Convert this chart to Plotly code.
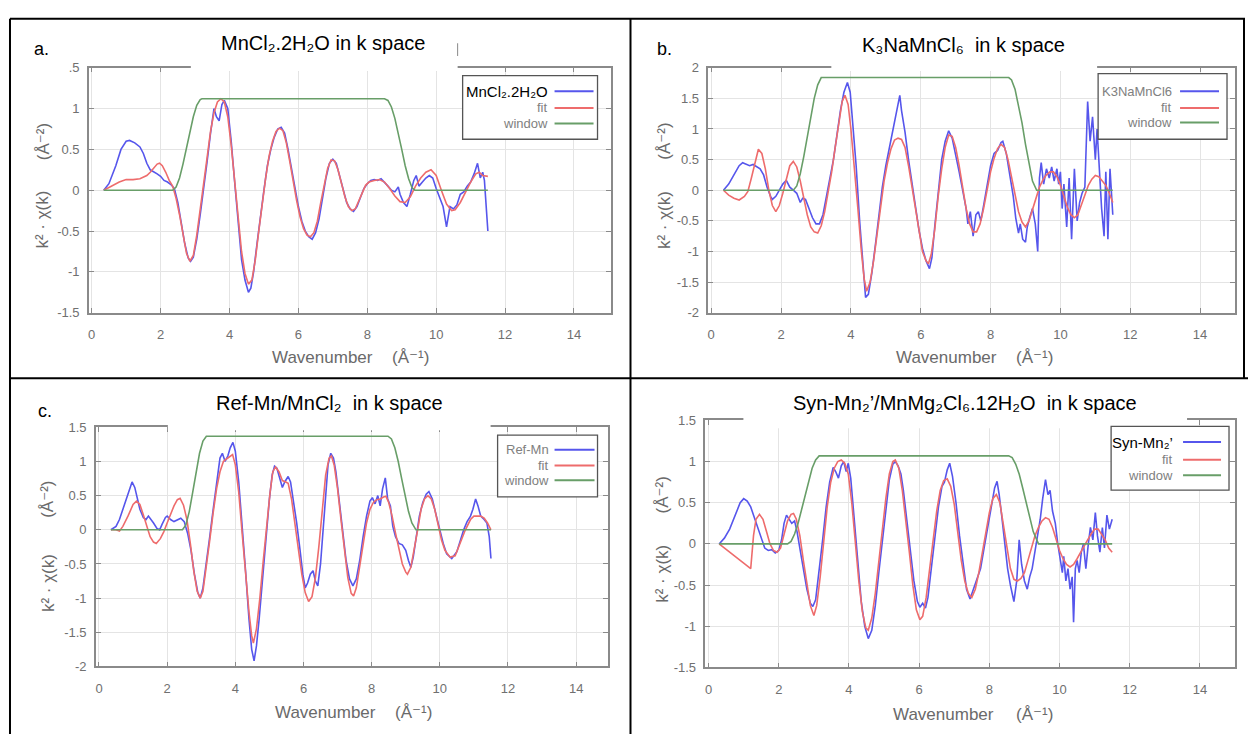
import plotly.graph_objects as go

W, H = 1248, 742

# ---------------- data ----------------
X_TICKS = [0, 2, 4, 6, 8, 10, 12, 14]

# panel a : MnCl2.2H2O
a_k = [0.35,0.5,0.7,0.85,1.0,1.1,1.25,1.4,1.5,1.6,1.7,1.8,1.9,2.0,2.1,2.2,2.3,2.4,2.5,2.6,2.7,2.8,2.87,2.95,3.05,3.15,3.25,3.35,3.45,3.55,3.62,3.7,3.78,3.85,3.95,4.05,4.15,4.25,4.35,4.45,4.55,4.62,4.7,4.8,4.9,5.0,5.1,5.2,5.3,5.4,5.5,5.6,5.7,5.8,5.9,6.0,6.1,6.2,6.3,6.4,6.5,6.6,6.7,6.8,6.9,7.0,7.1,7.2,7.3,7.4,7.5,7.6,7.7,7.8,7.9,8.0,8.1,8.2,8.3,8.4,8.5,8.6,8.7,8.8,8.9,8.95,9.05,9.15,9.25,9.35,9.42,9.5,9.6,9.7,9.8,9.9,10.0,10.1,10.2,10.3,10.35,10.4,10.5,10.6,10.7,10.8,10.9,11.0,11.1,11.2,11.28,11.35,11.4,11.45,11.5]
a_chi = [0,0.08,0.3,0.5,0.6,0.61,0.58,0.53,0.45,0.33,0.25,0.23,0.2,0.17,0.12,0.1,0.07,0.02,-0.15,-0.4,-0.65,-0.83,-0.87,-0.82,-0.6,-0.3,0.0,0.35,0.7,1.0,0.9,0.85,1.05,1.1,1.0,0.6,0.1,-0.4,-0.85,-1.1,-1.25,-1.2,-1.0,-0.65,-0.3,0.0,0.3,0.5,0.65,0.75,0.77,0.7,0.5,0.25,0.0,-0.2,-0.38,-0.5,-0.57,-0.6,-0.52,-0.35,-0.1,0.15,0.33,0.38,0.33,0.18,0.0,-0.15,-0.23,-0.26,-0.2,-0.08,0.02,0.08,0.12,0.13,0.12,0.14,0.1,0.05,0.0,-0.02,0.04,-0.05,-0.15,-0.2,-0.05,0.12,0.18,0.05,0.1,0.15,0.18,0.15,0.02,-0.08,-0.2,-0.45,-0.3,-0.2,-0.23,-0.18,-0.05,-0.02,0.05,0.1,0.2,0.33,0.15,0.22,0.12,-0.2,-0.5]
af_k = [0.35,0.6,0.8,1.0,1.2,1.4,1.6,1.7,1.8,1.9,1.97,2.05,2.15,2.25,2.35,2.45,2.55,2.65,2.75,2.85,2.95,3.05,3.15,3.25,3.35,3.45,3.55,3.65,3.75,3.85,3.95,4.05,4.15,4.25,4.35,4.45,4.55,4.65,4.75,4.85,4.95,5.05,5.15,5.25,5.35,5.45,5.55,5.65,5.75,5.85,5.95,6.05,6.15,6.25,6.35,6.45,6.55,6.65,6.75,6.85,6.95,7.05,7.15,7.25,7.35,7.45,7.55,7.65,7.75,7.85,7.95,8.05,8.2,8.35,8.5,8.65,8.8,8.95,9.1,9.25,9.4,9.55,9.7,9.85,10.0,10.15,10.3,10.45,10.55,10.7,10.85,11.0,11.15,11.25,11.35,11.5]
af_fit = [0,0.06,0.1,0.13,0.13,0.14,0.18,0.22,0.27,0.32,0.33,0.3,0.22,0.12,0.05,-0.1,-0.3,-0.55,-0.77,-0.87,-0.8,-0.55,-0.25,0.05,0.4,0.72,0.95,1.08,1.12,1.08,0.9,0.55,0.1,-0.35,-0.75,-1.02,-1.15,-1.1,-0.85,-0.5,-0.15,0.15,0.42,0.6,0.72,0.76,0.73,0.58,0.35,0.1,-0.13,-0.33,-0.47,-0.55,-0.57,-0.52,-0.38,-0.15,0.08,0.27,0.37,0.36,0.25,0.08,-0.08,-0.2,-0.25,-0.23,-0.13,-0.02,0.06,0.1,0.12,0.13,0.1,0.02,-0.07,-0.14,-0.15,-0.08,0.05,0.15,0.22,0.25,0.18,0.0,-0.17,-0.25,-0.24,-0.15,-0.02,0.1,0.2,0.22,0.18,0.17]
aw_k = [0.35,2.35,2.45,2.55,2.65,2.75,2.85,2.95,3.05,3.15,3.2,8.5,8.6,8.7,8.8,8.9,9.0,9.1,9.2,9.3,9.38,11.5]
aw_win = [0,0,0.04,0.15,0.32,0.52,0.72,0.9,1.04,1.11,1.12,1.12,1.1,1.02,0.88,0.7,0.5,0.3,0.14,0.03,0,0]

# panel b : K3NaMnCl6
b_k = [0.35,0.5,0.65,0.8,0.9,1.0,1.1,1.2,1.3,1.4,1.5,1.6,1.7,1.75,1.85,1.95,2.05,2.15,2.25,2.35,2.45,2.55,2.62,2.7,2.8,2.9,3.0,3.1,3.2,3.3,3.4,3.5,3.6,3.7,3.8,3.9,3.98,4.05,4.15,4.25,4.35,4.42,4.5,4.6,4.7,4.8,4.9,5.0,5.1,5.2,5.3,5.4,5.45,5.55,5.65,5.75,5.85,5.95,6.05,6.15,6.25,6.32,6.4,6.5,6.6,6.7,6.8,6.9,7.0,7.1,7.2,7.3,7.35,7.42,7.5,7.58,7.65,7.72,7.8,7.9,8.0,8.1,8.2,8.3,8.35,8.45,8.55,8.65,8.72,8.8,8.85,8.92,9.0,9.05,9.12,9.2,9.28,9.35,9.4,9.45,9.52,9.6,9.68,9.75,9.82,9.9,9.95,10.0,10.05,10.1,10.18,10.25,10.32,10.4,10.48,10.55,10.62,10.7,10.78,10.85,10.92,11.0,11.05,11.12,11.18,11.25,11.3,11.36,11.42,11.5]
b_chi = [0,0.1,0.25,0.4,0.45,0.43,0.4,0.42,0.38,0.35,0.25,0.05,-0.1,-0.15,-0.1,0.0,0.1,0.16,0.05,0.0,-0.05,-0.2,-0.13,-0.15,-0.3,-0.45,-0.55,-0.55,-0.4,-0.1,0.2,0.5,0.9,1.3,1.6,1.76,1.6,1.15,0.4,-0.5,-1.3,-1.75,-1.7,-1.35,-0.9,-0.4,0.05,0.4,0.7,0.95,1.25,1.55,1.3,0.95,0.5,0.1,-0.3,-0.65,-0.95,-1.15,-1.28,-1.1,-0.6,0.0,0.5,0.8,0.97,0.85,0.6,0.3,0.0,-0.3,-0.55,-0.35,-0.75,-0.4,-0.35,-0.5,-0.25,0.05,0.4,0.6,0.65,0.78,0.8,0.6,0.25,-0.1,-0.45,-0.7,-0.55,-0.8,-0.85,-0.6,-0.45,-0.3,-0.55,-1.0,0.2,0.45,0.1,0.35,0.2,0.38,0.15,0.35,0.1,0.3,-0.3,0.1,-0.6,0.2,-0.8,0.35,-0.5,-0.2,-0.05,0.05,1.45,0.8,1.2,0.5,1.0,0.2,-0.3,-0.75,0.3,-0.8,0.35,-0.4]
bf_k = [0.35,0.5,0.65,0.8,0.95,1.05,1.15,1.25,1.35,1.45,1.55,1.65,1.75,1.85,1.95,2.05,2.15,2.25,2.35,2.45,2.55,2.65,2.75,2.85,2.95,3.05,3.15,3.25,3.35,3.45,3.55,3.65,3.75,3.83,3.92,4.0,4.1,4.2,4.3,4.38,4.45,4.55,4.65,4.75,4.85,4.95,5.05,5.15,5.25,5.35,5.45,5.55,5.65,5.75,5.85,5.95,6.05,6.15,6.22,6.3,6.4,6.5,6.6,6.7,6.8,6.9,7.0,7.1,7.2,7.3,7.4,7.5,7.6,7.7,7.8,7.9,8.0,8.1,8.2,8.3,8.4,8.5,8.6,8.7,8.8,8.9,9.0,9.1,9.2,9.3,9.4,9.5,9.6,9.7,9.8,9.9,10.0,10.1,10.2,10.3,10.4,10.5,10.6,10.7,10.8,10.9,11.0,11.1,11.2,11.3,11.4,11.5]
bf_fit = [0,-0.08,-0.13,-0.16,-0.1,-0.02,0.2,0.45,0.67,0.6,0.35,0.0,-0.25,-0.35,-0.25,-0.05,0.2,0.4,0.47,0.38,0.15,-0.15,-0.4,-0.6,-0.68,-0.7,-0.58,-0.35,-0.05,0.3,0.7,1.1,1.45,1.55,1.4,1.0,0.4,-0.3,-1.0,-1.45,-1.65,-1.5,-1.15,-0.7,-0.25,0.15,0.45,0.68,0.82,0.85,0.83,0.7,0.4,0.05,-0.35,-0.7,-1.0,-1.15,-1.2,-1.05,-0.65,-0.1,0.35,0.7,0.9,0.88,0.7,0.4,0.05,-0.3,-0.55,-0.68,-0.68,-0.55,-0.3,0.0,0.3,0.52,0.68,0.75,0.7,0.5,0.2,-0.1,-0.35,-0.52,-0.6,-0.5,-0.32,-0.12,0.05,0.17,0.25,0.3,0.3,0.22,0.08,-0.1,-0.28,-0.4,-0.45,-0.4,-0.25,-0.08,0.08,0.18,0.24,0.22,0.15,0.08,-0.05,-0.2]
bw_k = [0.35,2.35,2.45,2.55,2.65,2.75,2.85,2.95,3.05,3.15,8.52,8.6,8.7,8.8,8.9,9.0,9.1,9.2,9.32,11.5]
bw_win = [0,0,0.07,0.27,0.55,0.88,1.2,1.5,1.72,1.84,1.84,1.8,1.65,1.4,1.1,0.75,0.42,0.15,0,0]

# panel c : Ref-Mn / MnCl2
c_k = [0.35,0.5,0.6,0.7,0.8,0.9,0.97,1.05,1.12,1.2,1.3,1.38,1.45,1.5,1.6,1.7,1.78,1.85,1.95,2.0,2.1,2.2,2.3,2.4,2.5,2.6,2.7,2.8,2.9,2.97,3.05,3.15,3.25,3.35,3.45,3.55,3.62,3.7,3.78,3.85,3.93,4.0,4.1,4.2,4.3,4.4,4.48,4.55,4.62,4.7,4.8,4.9,5.0,5.08,5.15,5.22,5.3,5.38,5.45,5.55,5.62,5.7,5.8,5.9,5.98,6.05,6.12,6.2,6.28,6.35,6.42,6.5,6.58,6.65,6.72,6.8,6.88,6.95,7.05,7.15,7.25,7.35,7.45,7.55,7.65,7.75,7.85,7.95,8.02,8.1,8.18,8.25,8.32,8.4,8.47,8.55,8.62,8.7,8.8,8.9,9.0,9.08,9.15,9.22,9.3,9.4,9.5,9.6,9.68,9.78,9.9,10.0,10.1,10.2,10.35,10.5,10.6,10.7,10.8,10.9,10.97,11.05,11.12,11.2,11.3,11.38,11.45,11.5]
c_chi = [0,0.05,0.15,0.3,0.45,0.6,0.7,0.62,0.45,0.3,0.18,0.15,0.2,0.17,0.1,0.02,0.0,0.08,0.18,0.2,0.15,0.12,0.15,0.17,0.12,-0.05,-0.3,-0.65,-0.92,-1.0,-0.85,-0.5,-0.1,0.3,0.7,1.05,1.12,1.0,1.08,1.2,1.28,1.15,0.7,0.1,-0.6,-1.3,-1.75,-1.92,-1.7,-1.3,-0.7,-0.1,0.45,0.8,0.93,0.9,0.75,0.62,0.7,0.78,0.7,0.45,0.1,-0.3,-0.65,-0.85,-0.78,-0.65,-0.6,-0.75,-0.82,-0.5,0.0,0.55,0.95,1.12,1.05,0.85,0.4,-0.05,-0.45,-0.72,-0.82,-0.72,-0.45,-0.1,0.2,0.42,0.47,0.38,0.5,0.35,0.6,0.76,0.45,0.35,0.05,-0.1,-0.2,-0.22,-0.3,-0.45,-0.55,-0.4,-0.1,0.2,0.4,0.52,0.56,0.45,0.2,0.0,-0.2,-0.35,-0.42,-0.32,-0.15,0.0,0.12,0.2,0.3,0.45,0.35,0.2,0.15,0.1,-0.1,-0.42]
cf_k = [0.35,0.5,0.6,0.7,0.85,1.0,1.1,1.2,1.3,1.4,1.5,1.6,1.68,1.8,1.9,2.0,2.1,2.2,2.3,2.38,2.48,2.58,2.68,2.78,2.88,2.97,3.05,3.15,3.25,3.35,3.45,3.55,3.65,3.75,3.85,3.92,4.0,4.1,4.2,4.3,4.4,4.48,4.53,4.62,4.72,4.82,4.92,5.02,5.1,5.18,5.28,5.38,5.48,5.55,5.65,5.75,5.85,5.95,6.05,6.15,6.25,6.35,6.45,6.55,6.65,6.75,6.82,6.9,7.0,7.1,7.2,7.3,7.4,7.47,7.55,7.65,7.75,7.85,7.95,8.05,8.15,8.25,8.35,8.42,8.5,8.6,8.7,8.8,8.9,9.0,9.05,9.15,9.25,9.35,9.45,9.55,9.65,9.75,9.85,9.95,10.05,10.15,10.3,10.45,10.6,10.75,10.9,11.0,11.1,11.2,11.3,11.4,11.5]
cf_fit = [0,0.0,-0.02,0.05,0.2,0.37,0.42,0.37,0.22,0.05,-0.1,-0.18,-0.2,-0.13,-0.03,0.1,0.22,0.35,0.44,0.46,0.36,0.15,-0.2,-0.6,-0.9,-1.0,-0.9,-0.55,-0.15,0.25,0.6,0.85,1.0,1.04,1.08,1.1,0.95,0.55,-0.05,-0.65,-1.2,-1.55,-1.66,-1.45,-1.0,-0.45,0.1,0.55,0.85,0.92,0.85,0.72,0.7,0.68,0.45,0.1,-0.3,-0.65,-0.92,-1.05,-0.98,-0.7,-0.25,0.3,0.8,1.05,1.08,0.95,0.6,0.15,-0.3,-0.7,-0.93,-0.97,-0.85,-0.55,-0.2,0.1,0.3,0.4,0.44,0.45,0.48,0.49,0.4,0.2,-0.05,-0.3,-0.5,-0.62,-0.65,-0.55,-0.3,0.0,0.3,0.45,0.5,0.45,0.3,0.05,-0.15,-0.3,-0.4,-0.38,-0.2,0.0,0.15,0.2,0.2,0.2,0.17,0.1,0.0]
cw_k = [0.35,2.45,2.55,2.65,2.75,2.85,2.95,3.05,3.15,8.48,8.58,8.68,8.78,8.88,8.98,9.08,9.18,9.3,11.5]
cw_win = [0,0,0.07,0.27,0.55,0.85,1.12,1.3,1.37,1.37,1.33,1.2,1.0,0.75,0.5,0.27,0.1,0,0]

# panel d : Syn-Mn2' / MnMg2Cl6.12H2O
d_k = [0.3,0.45,0.6,0.75,0.9,1.0,1.1,1.2,1.3,1.4,1.5,1.6,1.7,1.8,1.9,2.0,2.08,2.15,2.22,2.3,2.37,2.45,2.52,2.6,2.7,2.8,2.9,2.97,3.05,3.15,3.25,3.35,3.45,3.55,3.62,3.7,3.78,3.85,3.92,3.98,4.05,4.15,4.25,4.35,4.45,4.55,4.65,4.75,4.85,4.95,5.05,5.15,5.25,5.32,5.4,5.48,5.55,5.65,5.75,5.85,5.95,6.02,6.1,6.18,6.25,6.35,6.45,6.55,6.65,6.72,6.8,6.87,6.95,7.05,7.15,7.25,7.35,7.45,7.52,7.6,7.68,7.75,7.85,7.95,8.05,8.15,8.22,8.28,8.35,8.45,8.52,8.6,8.7,8.78,8.85,8.92,9.0,9.08,9.15,9.22,9.3,9.38,9.45,9.52,9.6,9.67,9.73,9.8,9.88,9.95,10.02,10.08,10.12,10.18,10.24,10.3,10.36,10.4,10.45,10.5,10.56,10.62,10.68,10.75,10.82,10.88,10.95,11.02,11.08,11.15,11.22,11.28,11.35,11.42,11.5]
d_chi = [0,0.07,0.18,0.35,0.5,0.55,0.52,0.45,0.33,0.2,0.07,-0.05,-0.08,-0.07,-0.11,-0.08,0.05,0.25,0.35,0.3,0.25,0.28,0.15,-0.05,-0.3,-0.55,-0.72,-0.76,-0.68,-0.35,0.05,0.45,0.75,0.93,0.88,0.8,0.95,1.0,0.88,0.98,0.8,0.3,-0.25,-0.7,-1.0,-1.15,-1.05,-0.75,-0.35,0.05,0.45,0.78,0.97,1.0,0.95,0.85,0.65,0.3,-0.1,-0.45,-0.7,-0.77,-0.72,-0.78,-0.65,-0.3,0.1,0.45,0.7,0.75,0.9,0.98,0.82,0.5,0.1,-0.25,-0.55,-0.67,-0.58,-0.5,-0.38,-0.3,-0.05,0.2,0.45,0.68,0.76,0.6,0.35,0.0,-0.3,-0.5,-0.7,-0.45,0.05,-0.25,-0.45,-0.55,-0.4,-0.3,-0.1,0.15,0.3,0.55,0.78,0.6,0.65,0.4,0.25,0.0,-0.2,-0.35,-0.15,-0.45,-0.3,-0.55,-0.4,-0.95,-0.3,-0.2,-0.35,-0.1,0.0,-0.3,0.0,0.2,0.05,0.38,0.1,-0.1,0.2,-0.05,0.35,0.18,0.3]
df_k = [0.3,0.45,0.6,0.75,0.9,1.05,1.2,1.28,1.35,1.45,1.55,1.65,1.75,1.85,1.95,2.05,2.15,2.25,2.35,2.42,2.5,2.6,2.7,2.8,2.9,3.0,3.08,3.18,3.28,3.38,3.48,3.58,3.68,3.78,3.88,3.98,4.08,4.18,4.28,4.38,4.48,4.55,4.65,4.75,4.85,4.95,5.05,5.15,5.25,5.32,5.42,5.52,5.62,5.72,5.82,5.92,6.02,6.1,6.2,6.3,6.4,6.5,6.6,6.7,6.8,6.9,7.0,7.1,7.2,7.3,7.4,7.5,7.6,7.7,7.8,7.9,8.0,8.1,8.2,8.3,8.4,8.5,8.6,8.7,8.8,8.9,9.0,9.1,9.2,9.3,9.4,9.5,9.6,9.7,9.8,9.9,10.0,10.1,10.2,10.3,10.4,10.5,10.6,10.7,10.8,10.9,11.0,11.1,11.2,11.3,11.4,11.5]
df_fit = [0,-0.05,-0.1,-0.15,-0.2,-0.25,-0.3,0.1,0.3,0.36,0.3,0.15,0.0,-0.08,-0.1,-0.05,0.1,0.28,0.36,0.37,0.3,0.1,-0.2,-0.5,-0.75,-0.87,-0.75,-0.4,0.05,0.45,0.75,0.92,1.0,1.02,0.98,0.85,0.5,0.0,-0.45,-0.82,-1.02,-1.05,-0.9,-0.6,-0.2,0.2,0.55,0.85,1.0,1.02,0.92,0.65,0.3,-0.1,-0.5,-0.8,-0.92,-0.88,-0.65,-0.3,0.05,0.4,0.65,0.77,0.79,0.7,0.48,0.15,-0.2,-0.45,-0.6,-0.65,-0.55,-0.35,-0.1,0.15,0.38,0.55,0.6,0.5,0.25,-0.05,-0.3,-0.43,-0.45,-0.42,-0.35,-0.2,-0.05,0.1,0.2,0.28,0.32,0.3,0.2,0.05,-0.08,-0.18,-0.25,-0.28,-0.25,-0.18,-0.1,-0.02,0.05,0.12,0.18,0.18,0.12,0.05,-0.05,-0.1]
dw_k = [0.3,2.25,2.35,2.45,2.55,2.65,2.75,2.85,2.95,3.05,3.15,8.55,8.65,8.75,8.85,8.95,9.05,9.15,9.25,9.4,11.5]
dw_win = [0,0,0.03,0.12,0.25,0.42,0.6,0.77,0.92,1.02,1.07,1.07,1.05,0.97,0.85,0.68,0.5,0.32,0.15,0,0]

TITLES = ["MnCl\u2082.2H\u2082O in k space",
          "K\u2083NaMnCl\u2086\u00a0 in k space",
          "Ref-Mn/MnCl\u2082\u00a0 in k space",
          "Syn-Mn\u2082\u2019/MnMg\u2082Cl\u2086.12H\u2082O\u00a0 in k space"]
PANEL_LETTERS = ["a.", "b.", "c.", ""]
LEGEND_LABELS = [["MnCl\u2082.2H\u2082O", "fit", "window"],
                 ["K3NaMnCl6", "fit", "window"],
                 ["Ref-Mn", "fit", "window"],
                 ["Syn-Mn\u2082\u2019", "fit", "window"]]
X_TITLE = ["Wavenumber", "(\u00c5\u207b\u00b9)"]
Y_TITLE = ["k\u00b2 \u00b7 \u03c7(k)", "(\u00c5\u207b\u00b2)"]

# ---------------- styling / geometry ----------------
BLUE = "rgb(86,86,236)"
RED = "rgb(238,108,108)"
GREEN = "rgb(104,158,104)"
FONT = "Liberation Sans, Arial, DejaVu Sans, sans-serif"
TICK_GRAY = "#707070"
AX_GRAY = "#6a6a6a"


def fx(p):
    return p / W


def fy(p):
    return 1 - p / H


panels = [
    dict(k=a_k, chi=a_chi, fk=af_k, fit=af_fit, wk=aw_k, win=aw_win,
         frame=(88, 610, 62, 312), xr=[-0.08, 15.06], yr=[-1.5, 1.5],
         yt=[-1.5, -1, -0.5, 0, 0.5, 1, 1.5], ytt=["-1.5", "-1", "-0.5", "0", "0.5", "1", ".5"],
         title_box=(190, 457, 14, 66), title_xy=(322, 37), letter_xy=(41, 43),
         xt1=(322, 358), xt2=(410, 358), yt1=(42, 217), yt2=(42, 137),
         leg_box=(462, 597, 70, 135), leg_tr=549, leg_line=(554, 593), leg_rows=(86, 103, 119),
         leg_first_black=True),
    dict(k=b_k, chi=b_chi, fk=bf_k, fit=bf_fit, wk=bw_k, win=bw_win,
         frame=(708, 1235, 62, 312), xr=[-0.08, 15.0], yr=[-2, 2],
         yt=[-2, -1.5, -1, -0.5, 0, 0.5, 1, 1.5, 2], ytt=["-2", "-1.5", "-1", "-0.5", "0", "0.5", "1", "1.5", "2"],
         title_box=(831, 1097, 14, 66), title_xy=(963, 39), letter_xy=(664, 43),
         xt1=(946, 358), xt2=(1034, 358), yt1=(664, 217), yt2=(664, 137),
         leg_box=(1098, 1227, 68, 135), leg_tr=1174, leg_line=(1180, 1219), leg_rows=(86, 103, 118),
         leg_first_black=False),
    dict(k=c_k, chi=c_chi, fk=cf_k, fit=cf_fit, wk=cw_k, win=cw_win,
         frame=(95, 607, 429, 673), xr=[-0.09, 14.92], yr=[-2, 1.5],
         yt=[-2, -1.5, -1, -0.5, 0, 0.5, 1, 1.5], ytt=["-2", "-1.5", "-1", "-0.5", "0", "0.5", "1", "1.5"],
         title_box=(167, 490, 382, 432), title_xy=(329, 404), letter_xy=(44, 412),
         xt1=(325, 720), xt2=(413, 720), yt1=(47, 588), yt2=(47, 502),
         leg_box=(497, 597, 437, 500), leg_tr=550, leg_line=(554, 594), leg_rows=(452, 468, 483),
         leg_first_black=False),
    dict(k=d_k, chi=d_chi, fk=df_k, fit=df_fit, wk=dw_k, win=dw_win,
         frame=(705, 1235, 422, 674), xr=[-0.09, 15.0], yr=[-1.5, 1.5],
         yt=[-1.5, -1, -0.5, 0, 0.5, 1, 1.5], ytt=["-1.5", "-1", "-0.5", "0", "0.5", "1", "1.5"],
         title_box=(743, 1187, 382, 430), title_xy=(965, 404), letter_xy=None,
         xt1=(943, 722), xt2=(1034, 722), yt1=(662, 578), yt2=(662, 498),
         leg_box=(1111, 1229, 428, 493), leg_tr=1175, leg_line=(1183, 1221), leg_rows=(444, 462, 478),
         leg_first_black=True),
]

fig = go.Figure()
layout = dict(width=W, height=H, margin=dict(l=0, r=0, t=0, b=0),
              paper_bgcolor="white", plot_bgcolor="white", showlegend=False,
              font=dict(family=FONT, size=13, color=TICK_GRAY))
shapes = []
annotations = []


def add_text(text, xy, size, color, xanchor="center", angle=0):
    annotations.append(dict(text=text, x=fx(xy[0]), y=fy(xy[1]), xref="paper", yref="paper",
                            xanchor=xanchor, yanchor="middle", textangle=angle, showarrow=False,
                            font=dict(size=size, color=color, family=FONT)))


for i, p in enumerate(panels):
    n = "" if i == 0 else str(i + 1)
    xa, ya = "x" + n, "y" + n
    x0, x1, y0, y1 = p["frame"]
    axis_common = dict(showgrid=True, gridcolor="#e4e4e4", gridwidth=1, zeroline=False,
                       showline=True, linecolor="#8a8a8a", linewidth=1.5, mirror="ticks",
                       ticks="inside", ticklen=5, tickcolor="#8a8a8a", tickwidth=1,
                       tickfont=dict(size=13, color=TICK_GRAY, family=FONT), fixedrange=True)
    layout["xaxis" + n] = dict(domain=[fx(x0), fx(x1)], range=p["xr"], anchor=ya,
                               tickmode="array", tickvals=X_TICKS, ticklabelstandoff=9, **axis_common)
    layout["yaxis" + n] = dict(domain=[fy(y1), fy(y0)], range=p["yr"], anchor=xa,
                               tickmode="array", tickvals=p["yt"], ticktext=p["ytt"],
                               ticklabelstandoff=5, **axis_common)

    fig.add_trace(go.Scatter(x=p["k"], y=p["chi"], xaxis=xa, yaxis=ya, mode="lines",
                             line=dict(color=BLUE, width=1.6), hoverinfo="skip"))
    fig.add_trace(go.Scatter(x=p["fk"], y=p["fit"], xaxis=xa, yaxis=ya, mode="lines",
                             line=dict(color=RED, width=1.6), hoverinfo="skip"))
    fig.add_trace(go.Scatter(x=p["wk"], y=p["win"], xaxis=xa, yaxis=ya, mode="lines",
                             line=dict(color=GREEN, width=1.6), hoverinfo="skip"))

    # white box of the pasted title (covers top of the frame)
    tb = p["title_box"]
    shapes.append(dict(type="rect", xref="paper", yref="paper", layer="above",
                       x0=fx(tb[0]), x1=fx(tb[1]), y0=fy(tb[3]), y1=fy(tb[2]),
                       fillcolor="white", line=dict(width=0)))
    add_text(TITLES[i], p["title_xy"], 20, "black")
    if p["letter_xy"]:
        add_text(PANEL_LETTERS[i], p["letter_xy"], 18, "black")

    # axis titles
    add_text(X_TITLE[0], p["xt1"], 17, AX_GRAY)
    add_text(X_TITLE[1], p["xt2"], 17, AX_GRAY)
    add_text(Y_TITLE[0], p["yt1"], 17, AX_GRAY, angle=-90)
    add_text(Y_TITLE[1], p["yt2"], 17, AX_GRAY, angle=-90)

    # legend box
    lb = p["leg_box"]
    shapes.append(dict(type="rect", xref="paper", yref="paper", layer="above",
                       x0=fx(lb[0]), x1=fx(lb[1]), y0=fy(lb[3]), y1=fy(lb[2]),
                       fillcolor="white", line=dict(color="#555555", width=1.3)))
    for j, (lab, col) in enumerate(zip(LEGEND_LABELS[i], [BLUE, RED, GREEN])):
        ry = p["leg_rows"][j]
        shapes.append(dict(type="line", xref="paper", yref="paper", layer="above",
                           x0=fx(p["leg_line"][0]), x1=fx(p["leg_line"][1]), y0=fy(ry), y1=fy(ry),
                           line=dict(color=col, width=2)))
        black = (j == 0 and p["leg_first_black"])
        add_text(lab, (p["leg_tr"], ry), 15 if black else 13, "black" if black else "#808080",
                 xanchor="right")

# remnant of the title text box border in panel a
shapes.append(dict(type="line", xref="paper", yref="paper", layer="above",
                   x0=fx(457), x1=fx(457), y0=fy(50), y1=fy(37), line=dict(color="#888888", width=1)))

# table borders
BL = dict(color="black", width=2)
for (xa0, ya0, xa1, ya1) in [(9, 12, 1245, 12), (9, 12, 9, 742), (630, 12, 630, 742),
                             (9, 379, 1248, 379), (1244, 12, 1244, 379)]:
    shapes.append(dict(type="line", xref="paper", yref="paper", layer="above",
                       x0=fx(xa0), x1=fx(xa1), y0=fy(ya0), y1=fy(ya1), line=BL))

layout["shapes"] = shapes
layout["annotations"] = annotations
fig.update_layout(**layout)
fig.write_html("out.html")
